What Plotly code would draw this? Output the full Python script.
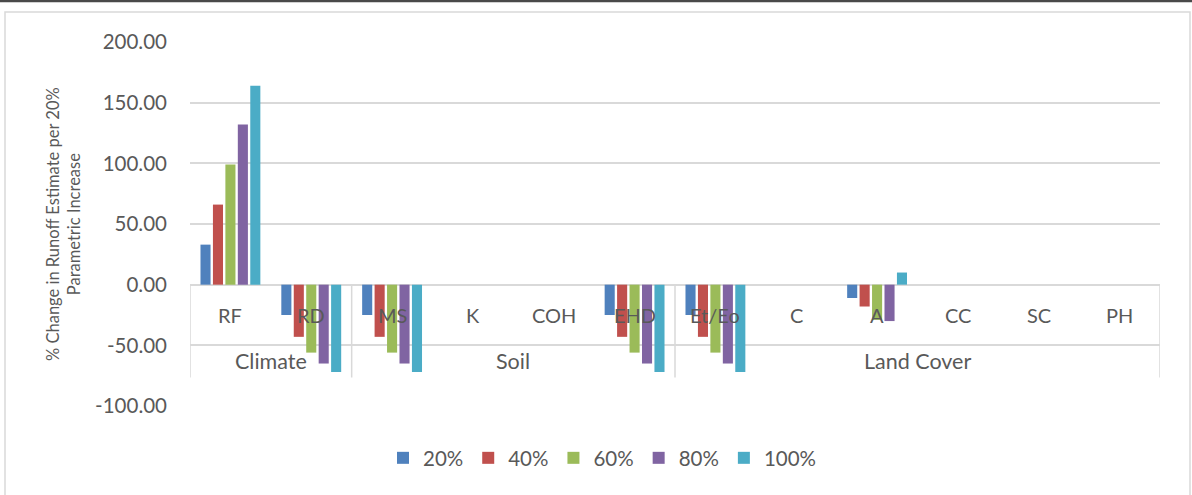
import plotly.graph_objects as go

# Parameters grouped by category
categories = ["RF", "RD", "MS", "K", "COH", "EHD", "Et/Eo", "C", "A", "CC", "SC", "PH"]
groups = [("Climate", 0, 1), ("Soil", 2, 5), ("Land Cover", 6, 11)]

series_names = ["20%", "40%", "60%", "80%", "100%"]
s20 = [33, -25, -25, 0, 0, -25, -25, 0, -11, 0, 0, 0]
s40 = [66, -43, -43, 0, 0, -43, -43, 0, -18, 0, 0, 0]
s60 = [99, -56, -56, 0, 0, -56, -56, 0, -29, 0, 0, 0]
s80 = [132, -65, -65, 0, 0, -65, -65, 0, -30, 0, 0, 0]
s100 = [164, -72, -72, 0, 0, -72, -72, 0, 10, 0, 0, 0]
series_values = [s20, s40, s60, s80, s100]

y_ticks = [-100, -50, 0, 50, 100, 150, 200]
y_tick_labels = ["-100.00", "-50.00", "0.00", "50.00", "100.00", "150.00", "200.00"]

colors = ["#4F81BD", "#C0504D", "#9BBB59", "#8064A2", "#4BACC6"]
text_color = "#595959"
grid_color = "#D9D9D9"
font_family = "Lato, 'Open Sans', sans-serif"

W, H = 1192, 495
L, R, T, B = 190, 32, 42, 89
plot_w = W - L - R
plot_h = H - T - B


def px_x(px):
    return (px - L) / plot_w


def px_y(py):
    return (H - B - py) / plot_h


fig = go.Figure()
for name, vals, col in zip(series_names, series_values, colors):
    fig.add_trace(go.Bar(
        name=name, x=categories, y=vals,
        marker=dict(color=col, line=dict(width=0)),
    ))

annotations = []
# category labels just below the zero axis
for i, c in enumerate(categories):
    annotations.append(dict(
        x=i, y=0, xref="x", yref="y", text=c, showarrow=False,
        yshift=-30, yanchor="middle", xanchor="center",
        font=dict(size=20, color=text_color, family=font_family),
    ))
# group labels on the second level
for gname, a, b in groups:
    annotations.append(dict(
        x=(a + b) / 2, y=0, xref="x", yref="y", text=gname, showarrow=False,
        yshift=-76, yanchor="middle", xanchor="center",
        font=dict(size=21.5, color=text_color, family=font_family),
    ))
# y-axis title
annotations.append(dict(
    x=px_x(63), y=0.5, xref="paper", yref="paper",
    text="% Change in Runoff Estimate per 20%<br>Parametric Increase",
    textangle=-90, showarrow=False, xanchor="center", yanchor="middle",
    font=dict(size=16.5, color=text_color, family=font_family),
))

shapes = []
# dividers between category groups in the label band
for xb in [-0.5, 1.5, 5.5, 11.5]:
    shapes.append(dict(
        type="line", xref="x", yref="y", x0=xb, x1=xb, y0=0, y1=-76.5,
        line=dict(color=grid_color, width=1.5), layer="below",
    ))
# chart frame
shapes.append(dict(
    type="rect", xref="paper", yref="paper",
    x0=px_x(5), x1=px_x(1190), y0=px_y(500), y1=px_y(12),
    line=dict(color=grid_color, width=1.5), layer="below",
))
shapes.append(dict(
    type="line", xref="paper", yref="paper",
    x0=px_x(-5), x1=px_x(1200), y0=px_y(1), y1=px_y(1),
    line=dict(color="#4A4A4A", width=2.5),
))

fig.update_layout(
    width=W, height=H,
    margin=dict(l=L, r=R, t=T, b=B, autoexpand=False),
    paper_bgcolor="white", plot_bgcolor="white",
    barmode="group", bargap=0.23, bargroupgap=0.19,
    font=dict(family=font_family, color=text_color),
    showlegend=True,
    legend=dict(
        orientation="h", x=px_x(602), xanchor="center",
        y=px_y(458), yanchor="middle",
        font=dict(size=20.5, color=text_color, family=font_family),
        itemwidth=30, traceorder="normal",
    ),
    annotations=annotations,
    shapes=shapes,
)
fig.update_xaxes(
    type="category", range=[-0.5, 11.5], showticklabels=False,
    showgrid=False, zeroline=False, showline=False, ticks="",
)
fig.update_yaxes(
    range=[-100, 200], tickvals=y_ticks, ticktext=y_tick_labels,
    showgrid=True, gridcolor=grid_color, gridwidth=1.5,
    zeroline=True, zerolinecolor=grid_color, zerolinewidth=1.5,
    showline=False, ticks="", ticklabelstandoff=22,
    tickfont=dict(size=20.5, color=text_color, family=font_family),
)

fig.write_html("out.html")
